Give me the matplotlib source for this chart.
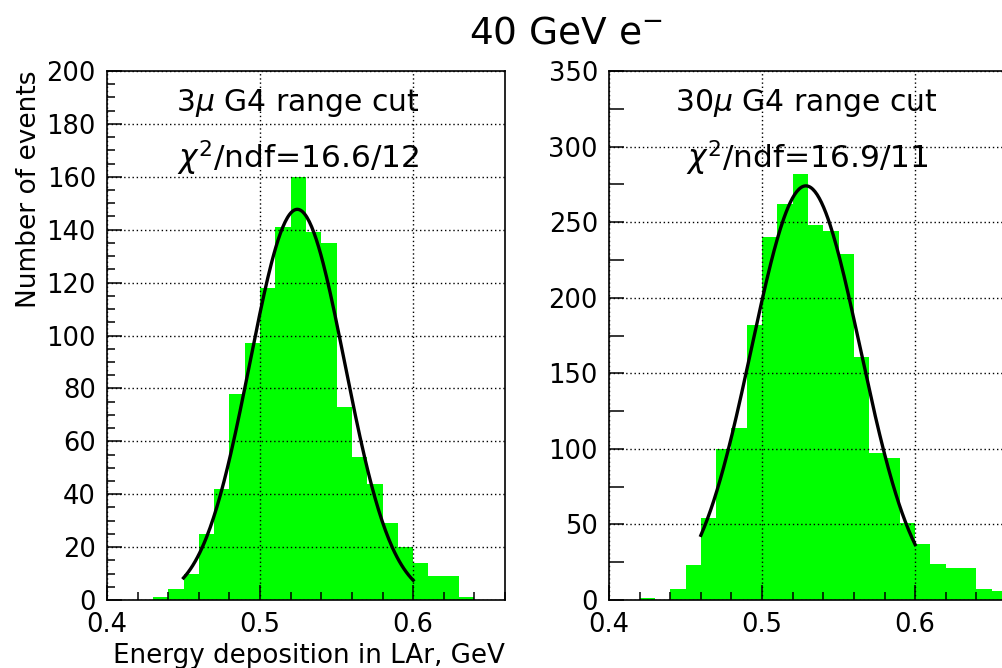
import numpy as np
import matplotlib
matplotlib.use("Agg")
import matplotlib.pyplot as plt
from matplotlib.ticker import MultipleLocator

plt.rcParams['font.family'] = ['DejaVu Sans']
plt.rcParams['mathtext.fontset'] = 'dejavusans'

# histogram bins: 0.40 .. 0.66 in steps of 0.01
bin_edges = [0.40, 0.41, 0.42, 0.43, 0.44, 0.45, 0.46, 0.47, 0.48, 0.49,
             0.50, 0.51, 0.52, 0.53, 0.54, 0.55, 0.56, 0.57, 0.58, 0.59,
             0.60, 0.61, 0.62, 0.63, 0.64, 0.65, 0.66]
counts_3mu = [0, 0, 0, 1, 4, 10, 25, 42, 78, 97,
              118, 141, 160, 139, 135, 73, 54, 44, 29, 20,
              14, 9, 9, 1, 0, 0]
counts_30mu = [0, 0, 1, 0, 7, 23, 54, 100, 114, 182,
               240, 262, 282, 248, 244, 229, 161, 97, 94, 51,
               37, 24, 21, 21, 7, 6]

# gaussian fit parameters: amplitude, mean, sigma, range
fit_3mu = dict(amp=147.7, mean=0.5243, sigma=0.0310, lo=0.45, hi=0.60)
fit_30mu = dict(amp=274.0, mean=0.5286, sigma=0.0356, lo=0.46, hi=0.60)

labels = ["3$\\mu$ G4 range cut", "30$\\mu$ G4 range cut"]
chi2 = ["$\\chi^2$/ndf=16.6/12", "$\\chi^2$/ndf=16.9/11"]
ylims = [200, 350]

W, H = 1003, 668
fig = plt.figure(figsize=(W / 100, H / 100), dpi=100)

def px_axes(x0, y0, x1, y1):
    return fig.add_axes([x0 / W, 1 - y1 / H, (x1 - x0) / W, (y1 - y0) / H])

ax1 = px_axes(107, 71, 505, 600)
ax2 = px_axes(609, 71, 1007, 600)

def draw(ax, counts, fit, ymax, major, minor, txt, chi, tx):
    edges = np.array(bin_edges)
    ax.bar(edges[:-1], counts, width=np.diff(edges), align='edge',
           color='#00ff00', edgecolor='none', linewidth=0, zorder=1)
    xs = np.linspace(fit['lo'], fit['hi'], 200)
    ys = fit['amp'] * np.exp(-0.5 * ((xs - fit['mean']) / fit['sigma']) ** 2)
    ax.plot(xs, ys, color='black', lw=2.4, zorder=3)
    ax.set_xlim(0.4, 0.66)
    ax.set_ylim(0, ymax)
    ax.xaxis.set_minor_locator(MultipleLocator(0.02))
    ax.yaxis.set_major_locator(MultipleLocator(major))
    ax.yaxis.set_minor_locator(MultipleLocator(minor))
    ax.set_xticks([0.4, 0.5, 0.6])
    ax.set_xticklabels(["0.4", "0.5", "0.6"])
    ax.grid(True, which='major', color='black', linestyle=(0, (1.0, 2.0)),
            linewidth=1.0, zorder=2)
    ax.set_axisbelow(False)
    ax.tick_params(which='both', direction='in', top=False, right=False,
                   labelsize=18.5, width=1.1)
    ax.tick_params(axis='x', which='both', pad=9)
    ax.tick_params(axis='y', which='both', pad=8)
    ax.tick_params(which='major', length=11)
    ax.tick_params(which='minor', length=5.5)
    for s in ax.spines.values():
        s.set_linewidth(1.2)
    ax.text(tx, 0.94, txt, transform=ax.transAxes, ha='center', va='center',
            fontsize=21.5, zorder=5)
    ax.text(tx, 0.835, chi, transform=ax.transAxes, ha='center', va='center',
            fontsize=22.5, zorder=5)

draw(ax1, counts_3mu, fit_3mu, ylims[0], 20, 5, labels[0], chi2[0], 0.48)
draw(ax2, counts_30mu, fit_30mu, ylims[1], 50, 25, labels[1], chi2[1], 0.497)
ax2.tick_params(axis='y', which='minor', length=11)

ax1.set_ylabel("Number of events", fontsize=19, loc='top', labelpad=3)
ax1.set_xlabel("Energy deposition in LAr, GeV", fontsize=18.8, loc='right',
               labelpad=3)

fig.text(566 / W, 1 - 33 / H, "40 GeV e$^{-}$", ha='center', va='center',
         fontsize=27)

fig.savefig("out.png", dpi=100)
